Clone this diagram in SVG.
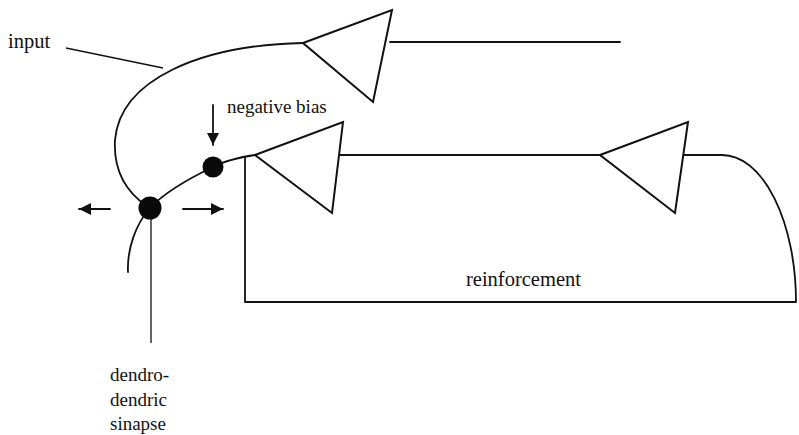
<svg xmlns="http://www.w3.org/2000/svg" width="799" height="435" viewBox="0 0 799 435">
  <style>
    .ln { fill: none; stroke: #111; stroke-width: 1.8; stroke-linecap: round; stroke-linejoin: round; }
    .thin { fill: none; stroke: #111; stroke-width: 1.3; }
    .tri { fill: #fff; stroke: #111; stroke-width: 2; stroke-linejoin: miter; }
    .dot { fill: #0a0a0a; }
    text { font-family: 'Liberation Serif', 'DejaVu Serif', serif; font-size: 19px; fill: #111; }
    text.big { font-size: 20.5px; }
  </style>
  <defs>
    <marker id="ah" viewBox="0 0 10 10" refX="10" refY="5" markerWidth="15" markerHeight="12" markerUnits="userSpaceOnUse" orient="auto">
      <path d="M0,0 L10,5 L0,10 Z" fill="#111"/>
    </marker>
  </defs>
  <rect width="799" height="435" fill="#fff"/>

  <g id="connectors">
    <path class="thin" d="M66,48 L163,68"/>
    <path class="ln" d="M303,43 C 200,45 120,80 115,140 C 113,175 130,195 148,207"/>
    <path class="ln" d="M255,155 C 235,158 222,162 213,167 C 190,178 165,192 150,208 C 135,225 127,250 128,272"/>
    <path class="thin" d="M151,208 L151,343"/>
    <path class="ln" d="M390,42 L620,42"/>
    <path class="ln" d="M340,155 L600,155"/>
    <path class="ln" d="M684,155 L722,155 A 74 147 0 0 1 796,302 L245,302 L245,157"/>
    <path class="ln" d="M110,209 L79,209" marker-end="url(#ah)"/>
    <path class="ln" d="M183,209 L223,209" marker-end="url(#ah)"/>
    <path class="ln" d="M213,105 L213,145" marker-end="url(#ah)"/>
  </g>

  <g id="neuron-upper">
    <polygon class="tri" points="303,43 392,10 373,102"/>
  </g>
  <g id="neuron-lower">
    <polygon class="tri" points="255,155 343,122 332,213"/>
  </g>
  <g id="neuron-right">
    <polygon class="tri" points="600,155 688,122 675,213"/>
  </g>
  <g id="synapse-upper">
    <circle class="dot" cx="213" cy="167" r="10.5"/>
  </g>
  <g id="synapse-lower">
    <circle class="dot" cx="150" cy="208" r="11.5"/>
  </g>

  <g id="labels">
    <text class="big" x="8" y="48">input</text>
    <text x="227" y="113">negative bias</text>
    <text class="big" x="466" y="286">reinforcement</text>
    <text x="110" y="381">dendro-</text>
    <text x="110" y="406">dendric</text>
    <text x="110" y="430">sinapse</text>
  </g>
</svg>
